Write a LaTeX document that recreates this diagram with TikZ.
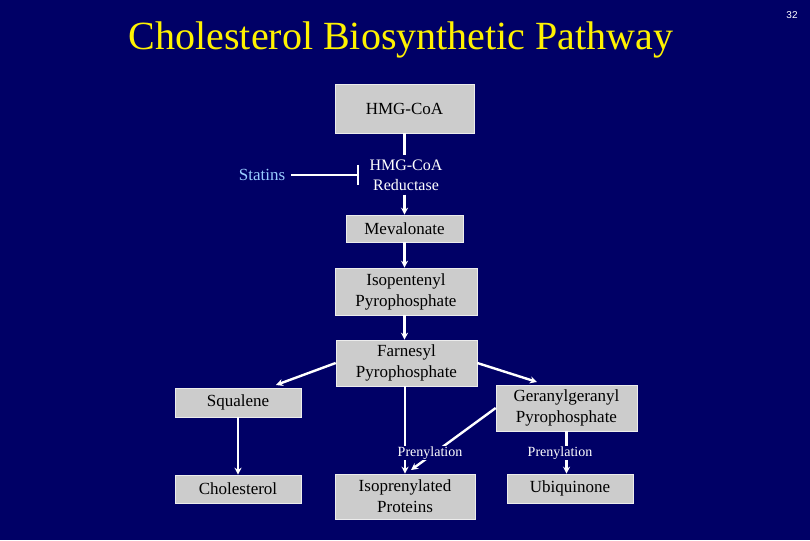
\documentclass[tikz,border=0pt]{standalone}
\usepackage{fontspec}
\setmainfont{Liberation Serif}
\newfontfamily\pagenumfont{Liberation Sans}
\usepackage{tikz}
\usetikzlibrary{positioning}
\usetikzlibrary{arrows.meta}
\usepackage{xcolor}
\definecolor{slidebg}{RGB}{0,0,102}
\definecolor{boxgray}{RGB}{204,204,204}
\definecolor{statblue}{RGB}{153,204,255}

\begin{document}
\begin{tikzpicture}[x=1pt,y=-1pt,
  box/.style={fill=boxgray, draw=gray!15, line width=0.6pt, align=center,
    inner sep=0pt, font=\fontsize{17}{21}\selectfont},
  flow/.style={white, line width=2.4pt, -{Stealth[length=7pt,width=7pt]}},
  prenyl/.style={fill=slidebg, text=white, inner sep=1pt,
    font=\fontsize{14}{16}\selectfont}]

\fill[slidebg] (0,0) rectangle (810,540);

\node[text=yellow, font=\fontsize{40}{44}\selectfont] (title) at (401,40)
{Cholesterol Biosynthetic Pathway};

\node[text=white, font=\pagenumfont\fontsize{10}{12}\selectfont] (pnum) at (792,15) {32};


\node[box, minimum width=139, minimum height=49] (hmg) at (404.5,108.5) {HMG-CoA};

\node[text=white, align=center, inner sep=4pt, font=\fontsize{16}{20}\selectfont]
(red) at (406,175) {HMG-CoA\\Reductase};

\node[text=statblue, inner sep=0pt, font=\fontsize{17}{21}\selectfont]
(statins) at (262,175) {Statins};

\node[box, minimum width=117, minimum height=27] (mev) at (404.5,228.5) {Mevalonate};

\node[box, minimum width=142, minimum height=47] (ipp) at (406,291.5) {Isopentenyl\\Pyrophosphate};

\node[box, minimum width=141, minimum height=46] (fpp) at (406.5,363) {Farnesyl\\Pyrophosphate};

\node[box, minimum width=126, minimum height=29] (sq) at (238,402.5) {Squalene};

\node[box, minimum width=126, minimum height=28] (chol) at (238,489) {Cholesterol};

\node[box, minimum width=141, minimum height=46] (ggpp) at (566.5,408) {Geranylgeranyl\\Pyrophosphate};

\node[box, minimum width=140, minimum height=45] (iso) at (405,496.5) {Isoprenylated\\Proteins};

\node[box, minimum width=126, minimum height=29] (ubi) at (570,488.5) {Ubiquinone};

% free ends of the slanted arrows
\coordinate (sqin) at (276,385);
\coordinate (ggin) at (537,382);
\coordinate (isoin) at (411,470);


\draw[white, line width=2.4pt] (hmg.south) -- (hmg.south |- red.north);
\draw[white, line width=2.4pt, -{Bar[width=20pt]}, shorten <=6pt, shorten >=6pt]
(statins) -- (red);

\draw[flow] (red.south -| mev.north) -- (mev.north);
\draw[flow] (mev.south) -- (mev.south |- ipp.north);
\draw[flow] (ipp.south -| mev.north) -- (mev.north |- fpp.north);

\draw[flow] (fpp.west) -- (sqin);
\draw[flow] (fpp.east) -- (ggin);
\draw[flow] (sq) -- (chol);

\draw[flow] (fpp.south -| iso.north) -- (iso.north);
\draw[flow] (ggpp.west) -- (isoin);
\draw[flow] (ggpp.south) -- (ggpp.south |- ubi.north);

\node[prenyl] (pren1) at (430,453) {Prenylation};
\node[prenyl] (pren2) at (560,453) {Prenylation};

\end{tikzpicture}
\end{document}
